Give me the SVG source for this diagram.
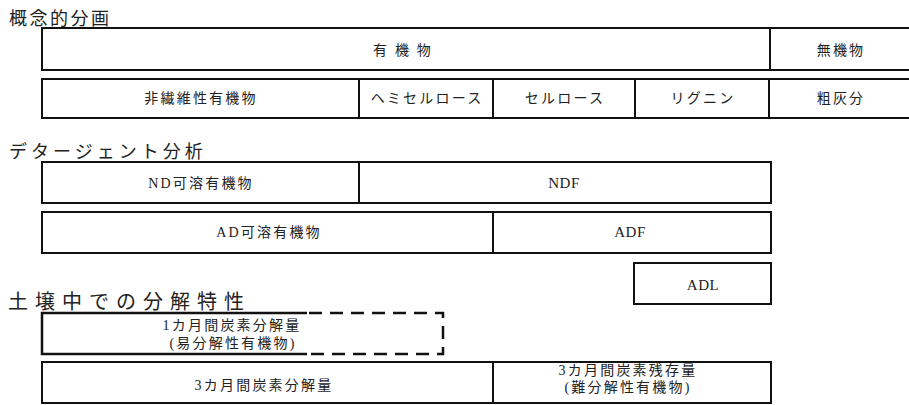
<svg xmlns="http://www.w3.org/2000/svg" width="909" height="405" viewBox="0 0 909 405">
<style>
.b{fill:#fff;stroke:#111;stroke-width:2}
.t{font-family:"Liberation Serif","Noto Sans CJK JP",serif;font-size:14px;fill:#222;text-anchor:middle;letter-spacing:2.2px}
.l{font-size:15px;letter-spacing:0.5px}
.h{font-family:"Noto Sans CJK JP",sans-serif;fill:#222}
.d{fill:none;stroke:#111;stroke-width:2.5;stroke-dasharray:13 8}
</style>
<rect width="909" height="405" fill="#fff"/>
<text class="h" x="9" y="25" font-size="18" letter-spacing="2.5">概念的分画</text>
<text class="h" x="9" y="158" font-size="18" letter-spacing="4">デタージェント分析</text>
<text class="h" x="8" y="309" font-size="20" letter-spacing="7">土壌中での分解特性</text>

<g id="organic"><rect class="b" x="42" y="28" width="728" height="42"/><text class="t" x="403" y="55">有 機 物</text></g>
<g id="inorganic"><rect class="b" x="770" y="28" width="142" height="42"/><text class="t" x="841" y="55">無機物</text></g>

<g id="nonfiber"><rect class="b" x="42" y="79" width="317" height="39"/><text class="t" x="201" y="103">非繊維性有機物</text></g>
<g id="hemicellulose"><rect class="b" x="359" y="79" width="134" height="39"/><text class="t" x="427" y="103">ヘミセルロース</text></g>
<g id="cellulose"><rect class="b" x="493" y="79" width="142" height="39"/><text class="t" x="565" y="103">セルロース</text></g>
<g id="lignin"><rect class="b" x="635" y="79" width="134" height="39"/><text class="t" x="703" y="103">リグニン</text></g>
<g id="ash"><rect class="b" x="769" y="79" width="143" height="39"/><text class="t" x="841" y="103">粗灰分</text></g>

<g id="nd-soluble"><rect class="b" x="42" y="162" width="317" height="41"/><text class="t" x="201" y="188">ND可溶有機物</text></g>
<g id="ndf"><rect class="b" x="359" y="162" width="412" height="41"/><text class="t l" x="564" y="188">NDF</text></g>
<g id="ad-soluble"><rect class="b" x="42" y="212" width="451" height="41"/><text class="t" x="269" y="237">AD可溶有機物</text></g>
<g id="adf"><rect class="b" x="493" y="212" width="278" height="41"/><text class="t l" x="630" y="237">ADF</text></g>
<g id="adl"><rect class="b" x="634" y="263" width="137" height="41"/><text class="t l" x="703" y="290">ADL</text></g>

<g id="one-month">
<path d="M307 313 H42 V354 H307" fill="none" stroke="#111" stroke-width="2.5"/>
<path class="d" d="M309 313 H443 V354 H309"/>
<text class="t" x="232" y="330">1カ月間炭素分解量</text>
<text class="t" x="233" y="348">(易分解性有機物)</text>
</g>
<g id="three-month-dec"><rect class="b" x="42" y="362" width="451" height="41"/><text class="t" x="264" y="390">3カ月間炭素分解量</text></g>
<g id="three-month-res"><rect class="b" x="493" y="362" width="278" height="41"/><text class="t" x="628" y="375">3カ月間炭素残存量</text><text class="t" x="628" y="392">(難分解性有機物)</text></g>
<g id="connectors"/>
</svg>
